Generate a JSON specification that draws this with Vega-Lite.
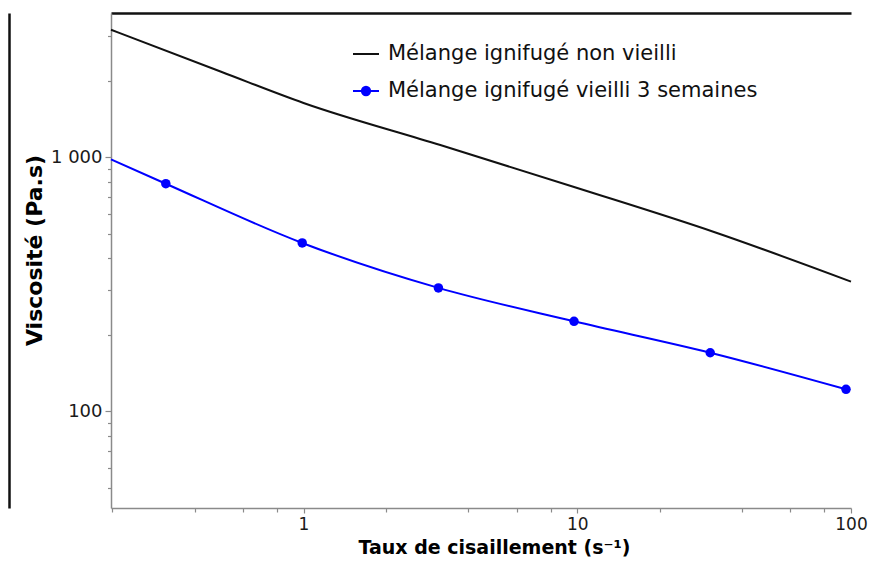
{
  "$schema": "https://vega.github.io/schema/vega-lite/v6.json",
  "width": 740,
  "height": 495,
  "autosize": {"type": "none"},
  "padding": {"left": 111, "top": 13, "right": 19, "bottom": 53},
  "background": "white",
  "config": {"font": "DejaVu Sans", "view": {"stroke": null}},
  "datasets": {
    "curves": [
      {"series": "Mélange ignifugé non vieilli", "rate": 0.198, "viscosity": 3177},
      {"series": "Mélange ignifugé non vieilli", "rate": 0.5, "viscosity": 2173},
      {"series": "Mélange ignifugé non vieilli", "rate": 1, "viscosity": 1637},
      {"series": "Mélange ignifugé non vieilli", "rate": 3.16, "viscosity": 1118},
      {"series": "Mélange ignifugé non vieilli", "rate": 10, "viscosity": 757},
      {"series": "Mélange ignifugé non vieilli", "rate": 31.6, "viscosity": 508},
      {"series": "Mélange ignifugé non vieilli", "rate": 100, "viscosity": 324},
      {"series": "Mélange ignifugé vieilli 3 semaines", "rate": 0.198, "viscosity": 982},
      {"series": "Mélange ignifugé vieilli 3 semaines", "rate": 0.314, "viscosity": 787},
      {"series": "Mélange ignifugé vieilli 3 semaines", "rate": 0.989, "viscosity": 460},
      {"series": "Mélange ignifugé vieilli 3 semaines", "rate": 3.11, "viscosity": 306},
      {"series": "Mélange ignifugé vieilli 3 semaines", "rate": 9.73, "viscosity": 226},
      {"series": "Mélange ignifugé vieilli 3 semaines", "rate": 30.6, "viscosity": 170},
      {"series": "Mélange ignifugé vieilli 3 semaines", "rate": 95.9, "viscosity": 122}
    ],
    "markers": [
      {"series": "Mélange ignifugé vieilli 3 semaines", "rate": 0.314, "viscosity": 787},
      {"series": "Mélange ignifugé vieilli 3 semaines", "rate": 0.989, "viscosity": 460},
      {"series": "Mélange ignifugé vieilli 3 semaines", "rate": 3.11, "viscosity": 306},
      {"series": "Mélange ignifugé vieilli 3 semaines", "rate": 9.73, "viscosity": 226},
      {"series": "Mélange ignifugé vieilli 3 semaines", "rate": 30.6, "viscosity": 170},
      {"series": "Mélange ignifugé vieilli 3 semaines", "rate": 95.9, "viscosity": 122}
    ]
  },
  "layer": [
    {
      "data": {"name": "curves"},
      "mark": {"type": "line", "interpolate": "monotone", "strokeWidth": 2},
      "encoding": {
        "x": {
          "field": "rate", "type": "quantitative",
          "scale": {"type": "log", "domain": [0.198, 100], "nice": false},
          "axis": {
            "orient": "bottom",
            "values": [0.2, 0.4, 0.6, 0.8, 1, 2, 4, 6, 8, 10, 20, 40, 60, 80, 100],
            "labelExpr": "datum.value == 1 ? '1' : (datum.value == 10 ? '10' : (datum.value == 100 ? '100' : ''))",
            "labelFlush": false, "labelOverlap": false,
            "labelFontSize": 17, "labelColor": "#1a1a1a", "labelPadding": 3,
            "grid": false,
            "domainColor": "#8a8a8a", "domainWidth": 1.5,
            "tickColor": "#8a8a8a", "tickWidth": 1.2,
            "tickSize": {"condition": {"test": "datum.value == 1 || datum.value == 10 || datum.value == 100", "value": 5}, "value": 4},
            "title": "Taux de cisaillement (s⁻¹)",
            "titleFontSize": 19, "titleFontWeight": "bold", "titleColor": "#000000", "titlePadding": 6,
            "titleX": 383
          }
        },
        "y": {
          "field": "viscosity", "type": "quantitative",
          "scale": {"type": "log", "domain": [41.6, 3700], "nice": false},
          "axis": {
            "orient": "left",
            "values": [50, 60, 70, 80, 90, 100, 200, 300, 400, 500, 600, 700, 800, 900, 1000, 2000, 3000],
            "labelExpr": "datum.value == 1000 ? '1 000' : (datum.value == 100 ? '100' : '')",
            "labelOverlap": false,
            "labelFontSize": 18, "labelColor": "#1a1a1a", "labelPadding": 3,
            "grid": false,
            "domainColor": "#8a8a8a", "domainWidth": 1.5,
            "tickColor": "#8a8a8a", "tickWidth": 1.2,
            "tickSize": {"condition": {"test": "datum.value == 100 || datum.value == 1000", "value": 6}, "value": 3.5},
            "title": "Viscosité (Pa.s)",
            "titleFontSize": 22, "titleFontWeight": "bold", "titleColor": "#000000", "titlePadding": 4,
            "titleY": 237
          }
        },
        "color": {
          "field": "series", "type": "nominal",
          "scale": {"domain": ["Mélange ignifugé non vieilli", "Mélange ignifugé vieilli 3 semaines"], "range": ["#111111", "#0000ff"]},
          "legend": {
            "orient": "none", "legendX": 241, "legendY": 27,
            "title": null,
            "labelFontSize": 21, "labelColor": "#111111", "labelOffset": 8, "labelLimit": 600,
            "symbolSize": 676, "symbolStrokeWidth": 2, "rowPadding": 13,
            "encode": {
              "symbols": {
                "update": {
                  "shape": {"signal": "datum.value == 'Mélange ignifugé non vieilli' ? 'M-1,0H1' : 'M-1,0H1M-0.32,0A0.32,0.32,0,1,1,0.32,0A0.32,0.32,0,1,1,-0.32,0'"},
                  "fill": {"signal": "datum.value == 'Mélange ignifugé non vieilli' ? 'transparent' : '#0000ff'"}
                }
              }
            }
          }
        }
      }
    },
    {
      "data": {"name": "markers"},
      "mark": {"type": "point", "filled": true, "size": 90, "color": "#0000ff", "opacity": 1},
      "encoding": {
        "x": {
          "field": "rate", "type": "quantitative",
          "axis": {"orient": "top", "labels": false, "ticks": false, "title": null, "grid": false, "domainColor": "#111111", "domainWidth": 2.5}
        },
        "y": {
          "field": "viscosity", "type": "quantitative",
          "axis": {"orient": "left", "offset": 102, "labels": false, "ticks": false, "title": null, "grid": false, "domainColor": "#111111", "domainWidth": 2.5}
        }
      }
    }
  ],
  "resolve": {"axis": {"x": "independent", "y": "independent"}}
}
